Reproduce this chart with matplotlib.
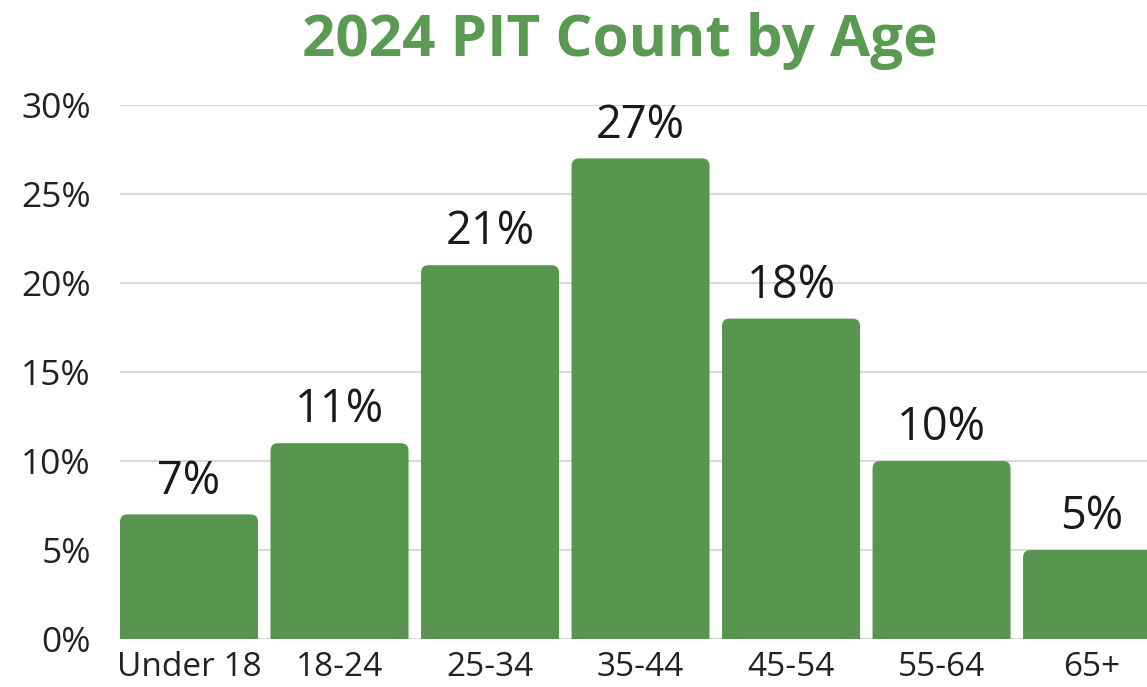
import matplotlib
matplotlib.use('Agg')
import matplotlib.pyplot as plt
from matplotlib.patches import FancyBboxPatch

# datos
grupos = ['Under 18', '18-24', '25-34', '35-44', '45-54', '55-64', '65+']
porcentajes = [7, 11, 21, 27, 18, 10, 5]
marcas_y = [0, 5, 10, 15, 20, 25, 30]

verde = '#58954f'
fuente = 'Open Sans'

fig = plt.figure(figsize=(11.47, 6.87), dpi=100)
ax = fig.add_axes([120 / 1147, 1 - 639 / 687, 1 - 120 / 1147, (639 - 105) / 687])

barras = ax.bar(range(len(grupos)), porcentajes, width=0.917, color=verde, zorder=3)
ax.set_xlim(-0.4585, 6.365)
ax.set_ylim(0, 30)

# esquinas redondeadas arriba (las de abajo quedan cortadas por el eje)
for b in barras:
    x, w, h = b.get_x(), b.get_width(), b.get_height()
    b.set_visible(False)
    redondo = FancyBboxPatch((x, -1), w, h + 1, boxstyle='round,pad=0,rounding_size=0.05',
                             mutation_aspect=8.5, facecolor=verde, edgecolor='none',
                             zorder=3)
    ax.add_patch(redondo)

for i, v in enumerate(porcentajes):
    ax.text(i, v + 0.55, f'{v}%', ha='center', va='bottom', fontsize=32.5,
            family=fuente, color='#1a1a1a', clip_on=False)

ax.set_yticks(marcas_y)
ax.set_yticklabels([f'{m}%' for m in marcas_y], fontsize=25.5, family=fuente, color='#222222')
ax.set_xticks(range(len(grupos)))
ax.set_xticklabels(grupos, fontsize=24, family=fuente, color='#222222')
ax.tick_params(axis='both', length=0)
ax.tick_params(axis='y', pad=21)
ax.tick_params(axis='x', pad=9)

ax.grid(axis='y', color='#d9d9d9', linewidth=1.5, zorder=0)
for s in ax.spines.values():
    s.set_visible(False)

fig.text(0.5405, 0.94, '2024 PIT Count by Age', ha='center', va='center', fontsize=42,
         fontweight='bold', family=fuente, color='#5a9a52')

fig.savefig('out.png', dpi=100)
